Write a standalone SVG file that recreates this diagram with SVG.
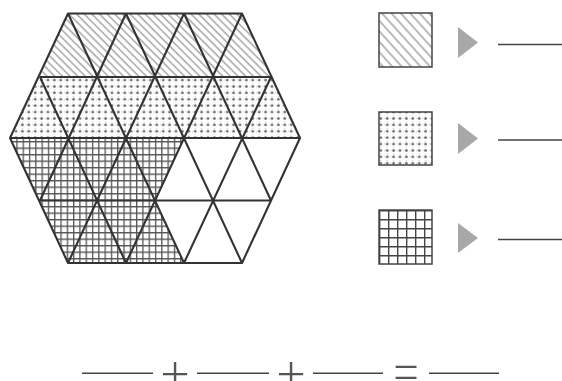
<svg xmlns="http://www.w3.org/2000/svg" width="562" height="381" viewBox="0 0 562 381">
<defs>
<pattern id="hatch" patternUnits="userSpaceOnUse" width="5.4" height="10" patternTransform="rotate(-45)">
<line x1="1" y1="-1" x2="1" y2="11" stroke="#959595" stroke-width="1.25"/>
</pattern>
<pattern id="hatch2" patternUnits="userSpaceOnUse" x="379" y="13" width="7" height="10" patternTransform="rotate(-42)">
<line x1="1" y1="-1" x2="1" y2="11" stroke="#959595" stroke-width="1.3"/>
</pattern>
<pattern id="dots" patternUnits="userSpaceOnUse" width="6.4" height="6.4">
<circle cx="3.2" cy="3.2" r="1.4" fill="#6e6e6e"/>
<circle cx="0" cy="3.2" r="0.7" fill="#b0b0b0"/>
<circle cx="3.2" cy="0" r="0.7" fill="#b0b0b0"/>
</pattern>
<pattern id="grid" patternUnits="userSpaceOnUse" x="22.6" y="141" width="6.3" height="6.5">
<path d="M0.65 0V6.5M0 0.65H6.3" stroke="#555" stroke-width="1.3" fill="none"/>
</pattern>
<pattern id="grid2" patternUnits="userSpaceOnUse" x="379" y="210" width="9" height="9">
<path d="M0.7 0V9M0 0.7H9" stroke="#444" stroke-width="1.4" fill="none"/>
</pattern>
<style>
.edge{fill:none;stroke:#333;stroke-width:2.1;stroke-linejoin:round}
.box{stroke:#444;stroke-width:1.5}
.mark{fill:#a8a8a8}
.blank{stroke:#444;stroke-width:1.5}
.sym{font-family:Inter,"Liberation Sans",sans-serif;font-weight:200;font-size:56px;fill:#555;text-anchor:middle}
</style>
</defs>
<rect width="562" height="381" fill="#fff"/>
<g id="hexagon">
<polygon points="68,13.5 242,13.5 271,77 40,77" fill="url(#hatch)"/>
<polygon points="40,77 271,77 300,138 10,138" fill="url(#dots)"/>
<polygon points="10,138 184,138 155,200.5 184,263 68,263" fill="url(#grid)"/>
<polygon points="184,138 300,138 242,263 184,263 155,200.5" fill="#fff"/>
<path class="edge" d="M40 77H271M10 138H300M40 200.5H271
M40 200.5L126 13.5M68 263L184 13.5M126 263L242 13.5M184 263L271 77
M271 200.5L184 13.5M242 263L126 13.5M184 263L68 13.5M126 263L40 77"/>
<polygon class="edge" points="68,13.5 242,13.5 300,138 242,263 68,263 10,138"/>
</g>
<g id="legend-hatch">
<rect class="box" x="379" y="13" width="53" height="54" fill="url(#hatch2)"/>
<polygon class="mark" points="458,27 478,42.5 458,58"/>
<line class="blank" x1="498" y1="44.5" x2="562" y2="44.5"/>
</g>
<g id="legend-dots">
<rect class="box" x="379" y="112" width="53" height="53" fill="url(#dots)"/>
<polygon class="mark" points="458,123 478,138.5 458,154"/>
<line class="blank" x1="498" y1="140" x2="562" y2="140"/>
</g>
<g id="legend-grid">
<rect class="box" x="379" y="210" width="53" height="54" fill="url(#grid2)"/>
<polygon class="mark" points="458,223 478,238 458,253"/>
<line class="blank" x1="498" y1="239.5" x2="562" y2="239.5"/>
</g>
<g id="equation">
<line class="blank" x1="82" y1="373.3" x2="153" y2="373.3"/>
<line class="blank" x1="197" y1="373.3" x2="269" y2="373.3"/>
<line class="blank" x1="313" y1="373.3" x2="383" y2="373.3"/>
<line class="blank" x1="429" y1="373.3" x2="499" y2="373.3"/>
<text class="sym" x="175" y="390">+</text>
<text class="sym" x="291" y="390">+</text>
<text class="sym" x="406" y="388">=</text>
</g>
<g id="connectors"/>
</svg>
